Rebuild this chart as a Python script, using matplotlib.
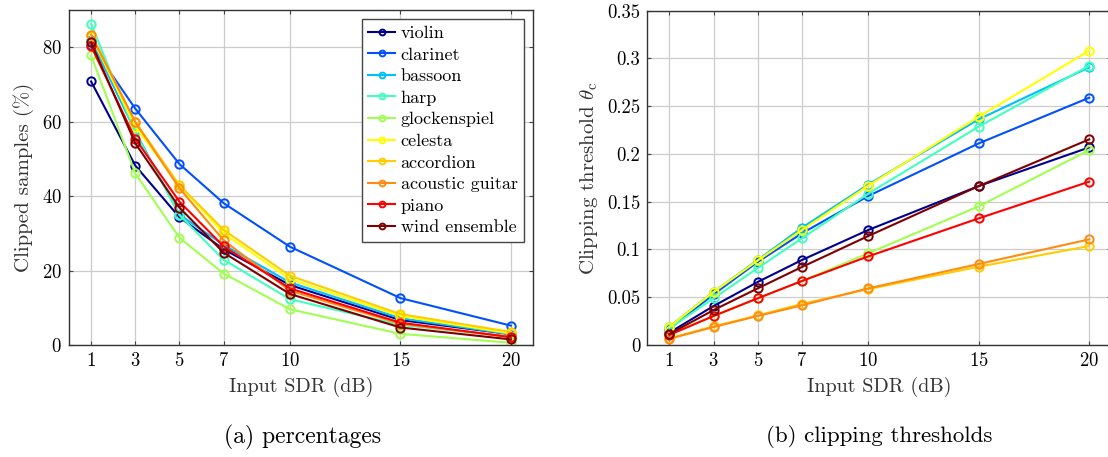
import matplotlib
matplotlib.use('Agg')
import matplotlib.pyplot as plt

plt.rcParams['font.family'] = 'serif'
plt.rcParams['font.serif'] = ['cmr10']
plt.rcParams['mathtext.fontset'] = 'cm'
plt.rcParams['axes.formatter.use_mathtext'] = True

# Input SDR values (dB)
sdr = [1, 3, 5, 7, 10, 15, 20]

instruments = ['violin', 'clarinet', 'bassoon', 'harp', 'glockenspiel',
               'celesta', 'accordion', 'acoustic guitar', 'piano', 'wind ensemble']
colors = ['#00008f', '#0050ff', '#00bfff', '#40ffbf', '#a0ff50',
          '#ffff00', '#ffcc00', '#ff8c10', '#ff0000', '#800000']

# (a) percentage of clipped samples
pct_violin = [70.8, 48.2, 34.3, 25.7, 16.1, 6.7, 2.9]
pct_clarinet = [80.7, 63.5, 48.6, 38.1, 26.4, 12.6, 5.2]
pct_bassoon = [82.0, 57.4, 35.0, 26.9, 16.8, 7.2, 2.9]
pct_harp = [86.3, 57.0, 34.9, 22.9, 12.3, 5.4, 2.2]
pct_glockenspiel = [77.8, 46.1, 28.8, 19.2, 9.6, 3.0, 0.6]
pct_celesta = [83.0, 58.7, 42.9, 30.0, 17.7, 7.8, 3.1]
pct_accordion = [83.4, 59.9, 42.9, 30.9, 18.6, 8.3, 3.5]
pct_guitar = [83.4, 59.9, 42.1, 28.1, 14.6, 5.7, 2.2]
pct_piano = [80.3, 55.4, 38.5, 26.5, 15.2, 6.0, 2.1]
pct_wind = [81.3, 54.2, 36.9, 24.8, 13.7, 4.7, 1.5]

# (b) clipping thresholds
thr_violin = [0.013, 0.0408, 0.066, 0.089, 0.1204, 0.1664, 0.2069]
thr_clarinet = [0.017, 0.053, 0.087, 0.117, 0.156, 0.2111, 0.2589]
thr_bassoon = [0.0192, 0.0555, 0.089, 0.1228, 0.168, 0.2363, 0.2907]
thr_harp = [0.0175, 0.0489, 0.0806, 0.1117, 0.1585, 0.2286, 0.2924]
thr_glockenspiel = [0.012, 0.030, 0.049, 0.067, 0.096, 0.1452, 0.2041]
thr_celesta = [0.019, 0.0555, 0.0885, 0.1204, 0.1668, 0.239, 0.3081]
thr_accordion = [0.007, 0.0195, 0.031, 0.043, 0.0585, 0.082, 0.1036]
thr_guitar = [0.0065, 0.0188, 0.0304, 0.0415, 0.0593, 0.0848, 0.1106]
thr_piano = [0.0105, 0.0304, 0.0489, 0.067, 0.0928, 0.1326, 0.171]
thr_wind = [0.0115, 0.0366, 0.0593, 0.0817, 0.1141, 0.1664, 0.2153]

pct = [pct_violin, pct_clarinet, pct_bassoon, pct_harp, pct_glockenspiel,
       pct_celesta, pct_accordion, pct_guitar, pct_piano, pct_wind]
thr = [thr_violin, thr_clarinet, thr_bassoon, thr_harp, thr_glockenspiel,
       thr_celesta, thr_accordion, thr_guitar, thr_piano, thr_wind]

W, H = 1108, 457
fig = plt.figure(figsize=(W / 100, H / 100), dpi=100)
ax1 = fig.add_axes([69 / W, (H - 345) / H, 464 / W, 335 / H])
ax2 = fig.add_axes([647.3 / W, (H - 345) / H, 464 / W, 334.3 / H])


def style(ax):
    ax.set_xlim(0, 21)
    ax.set_xticks(sdr)
    ax.grid(True, color='#cccccc', linewidth=0.9)
    ax.set_axisbelow(True)
    for s in ax.spines.values():
        s.set_color('#333333')
        s.set_linewidth(1.0)
    ax.tick_params(direction='in', length=3, width=0.8, color='#444444',
                   top=True, right=True, labelsize=13.5, pad=5)
    ax.set_xlabel('Input SDR (dB)', fontsize=14.5, color='#333333', labelpad=5)


for name, c, y in zip(instruments, colors, pct):
    ax1.plot(sdr, y, '-o', color=c, lw=1.5, ms=6, mfc='none', mew=1.4, label=name)
for name, c, y in zip(instruments, colors, thr):
    ax2.plot(sdr, y, '-o', color=c, lw=1.5, ms=6, mfc='none', mew=1.4, label=name)

style(ax1)
ax1.set_ylim(0, 90)
ax1.set_yticks([0, 20, 40, 60, 80])
ax1.set_ylabel('Clipped samples (%)', fontsize=15, color='#333333', labelpad=6)

style(ax2)
ax2.set_ylim(0, 0.35)
yt = [0, 0.05, 0.1, 0.15, 0.2, 0.25, 0.3, 0.35]
ax2.set_yticks(yt)
ax2.set_yticklabels(['0', '0.05', '0.1', '0.15', '0.2', '0.25', '0.3', '0.35'])
ax2.set_ylabel(r'Clipping threshold $\theta_\mathrm{c}$', fontsize=15,
               color='#333333', labelpad=5)

leg = ax1.legend(loc='upper right', fontsize=13, frameon=True, fancybox=False,
                 edgecolor='#444444', framealpha=1, handlelength=1.5,
                 handletextpad=0.3, borderpad=0.35, labelspacing=0.33,
                 markerscale=0.7, borderaxespad=0.5)
leg.get_frame().set_linewidth(1.0)

fig.text(302 / W, 1 - 437 / H, '(a) percentages', ha='center', va='center', fontsize=17)
fig.text(879 / W, 1 - 437 / H, '(b) clipping thresholds', ha='center', va='center', fontsize=16.5)

fig.savefig('out.png', dpi=100)
